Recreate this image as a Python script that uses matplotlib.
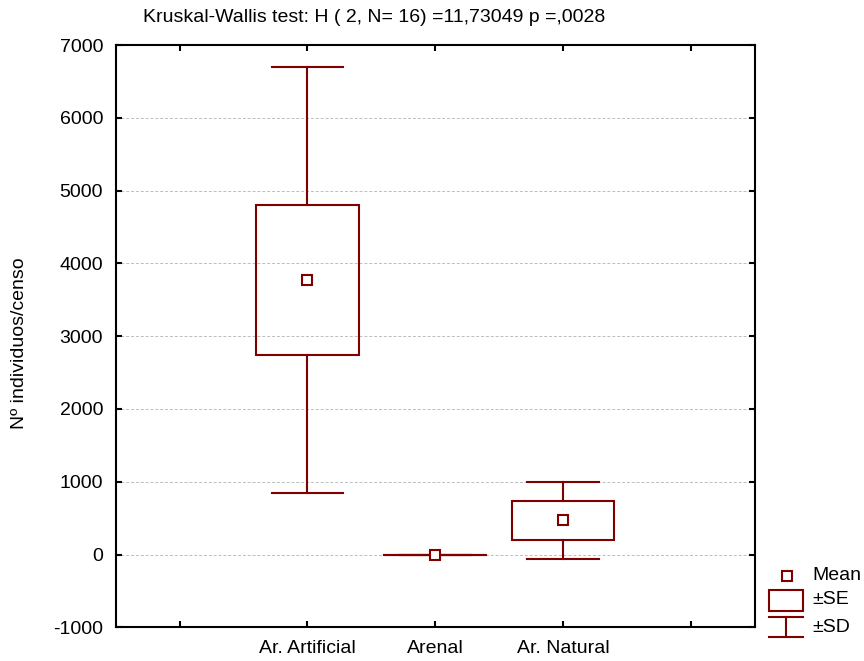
import matplotlib
matplotlib.use("Agg")
import matplotlib.pyplot as plt
from matplotlib.patches import Rectangle

plt.rcParams['font.family'] = ['Liberation Sans', 'DejaVu Sans']

categories = ["Ar. Artificial", "Arenal", "Ar. Natural"]
means = [3773, 0, 470]
se = [1032, 0, 265]
sd = [2930, 0, 525]
yticks = [-1000, 0, 1000, 2000, 3000, 4000, 5000, 6000, 7000]
title = "Kruskal-Wallis test: H ( 2, N= 16) =11,73049 p =,0028"
ylabel = "Nº individuos/censo"
legend_labels = ["Mean", "±SE", "±SD"]

col = "#800000"
lw = 1.5
fs = 14

W, H = 864, 661
fig = plt.figure(figsize=(W / 100, H / 100), dpi=100)
ax = fig.add_axes([115.7 / W, 1 - 627.3 / H, (755 - 115.7) / W, (627.3 - 45) / H])

box_w = 0.8
cap_w = 0.56
for i, (m, s, d) in enumerate(zip(means, se, sd)):
    x = i + 1
    ax.add_patch(Rectangle((x - box_w / 2, m - s), box_w, 2 * s, facecolor="none",
                           edgecolor=col, lw=lw, zorder=3))
    if s == 0:
        ax.plot([x - box_w / 2, x + box_w / 2], [m, m], color=col, lw=lw, zorder=3)
    ax.plot([x, x], [m + s, m + d], color=col, lw=lw, zorder=3)
    ax.plot([x, x], [m - s, m - d], color=col, lw=lw, zorder=3)
    ax.plot([x - cap_w / 2, x + cap_w / 2], [m + d, m + d], color=col, lw=lw, zorder=3)
    ax.plot([x - cap_w / 2, x + cap_w / 2], [m - d, m - d], color=col, lw=lw, zorder=3)
    ax.plot([x], [m], marker="s", ms=6.5, mfc="white", mec=col, mew=1.5, zorder=4)

ax.set_xlim(-0.5, 4.5)
ax.set_ylim(-1000, 7000)
ax.set_xticks([0, 1, 2, 3, 4])
ax.set_xticklabels([""] + categories + [""], fontsize=fs)
ax.set_yticks(yticks)
ax.set_yticklabels([str(v) for v in yticks], fontsize=fs)
ax.tick_params(direction="in", top=True, right=True, length=4, width=1.5, color="black")
ax.tick_params(axis="y", pad=9)
ax.tick_params(axis="x", pad=9)
for sp in ax.spines.values():
    sp.set_linewidth(1.5)
ax.yaxis.grid(True, linestyle=(0, (3, 2)), color="#bdbdbd", lw=0.7)
ax.set_axisbelow(True)

fig.text(143 / W, 1 - 18 / H, title, fontsize=fs, ha="left", va="center")
fig.text(20 / W, 1 - 343 / H, ylabel, fontsize=fs, rotation=90, ha="center", va="center")

# legend drawn in pixel coordinates of an overlay axes
lax = fig.add_axes([0, 0, 1, 1])
lax.set_xlim(0, W)
lax.set_ylim(H, 0)
lax.axis("off")
lax.plot([787], [576], marker="s", ms=6.5, mfc="white", mec=col, mew=1.5)
lax.add_patch(Rectangle((769, 590), 34, 20.5, facecolor="none", edgecolor=col, lw=lw))
lax.plot([769, 803], [616.5, 616.5], color=col, lw=lw)
lax.plot([769, 803], [636.5, 636.5], color=col, lw=lw)
lax.plot([786, 786], [616.5, 636.5], color=col, lw=lw)
for lab, yy in zip(legend_labels, [576, 600, 627]):
    lax.text(812, yy, lab, fontsize=fs, ha="left", va="center")

fig.savefig("out.png", dpi=100)
